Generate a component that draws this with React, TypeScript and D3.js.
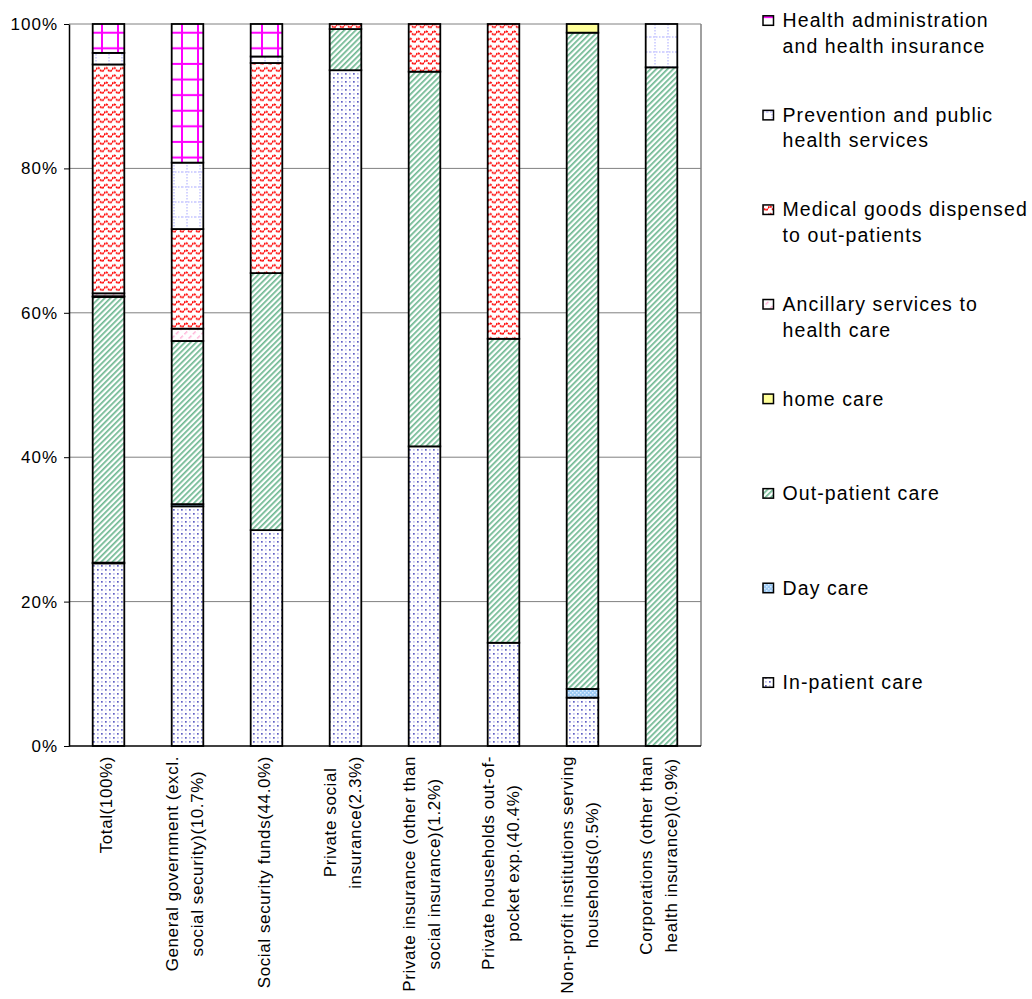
import React, { useEffect, useRef } from "react";
import * as d3 from "d3";

// Financing agents (x categories) and their wrapped axis labels
const categories = [
  "Total",
  "General government",
  "Social security funds",
  "Private social insurance",
  "Private insurance",
  "Private households",
  "Non-profit institutions",
  "Corporations",
];
const categoryLabels = [
  ["Total(100%)"],
  ["General government (excl.", "social security)(10.7%)"],
  ["Social security funds(44.0%)"],
  ["Private social", "insurance(2.3%)"],
  ["Private insurance (other than", "social insurance)(1.2%)"],
  ["Private households out-of-", "pocket exp.(40.4%)"],
  ["Non-profit institutions serving", "households(0.5%)"],
  ["Corporations (other than", "health insurance)(0.9%)"],
];

// Share (%) of each function of care, per financing agent
const inPatient = [25.3, 33.2, 29.9, 93.6, 41.5, 14.3, 6.7, 0];
const dayCare = [0.1, 0.3, 0, 0, 0, 0, 1.2, 0];
const outPatient = [36.8, 22.6, 35.6, 5.7, 51.9, 42.1, 90.9, 94.0];
const homeCare = [0.1, 0, 0, 0, 0, 0, 1.2, 0];
const ancillary = [0.4, 1.7, 0, 0, 0, 0, 0, 0];
const medicalGoods = [31.7, 13.8, 29.1, 0.7, 6.6, 43.6, 0, 0];
const prevention = [1.6, 9.2, 0.9, 0, 0, 0, 0, 6.0];
const administration = [4.0, 19.2, 4.5, 0, 0, 0, 0, 0];

// Stack order, bottom to top
const seriesKeys = [
  "inPatient",
  "dayCare",
  "outPatient",
  "homeCare",
  "ancillary",
  "medicalGoods",
  "prevention",
  "administration",
];
const seriesValues: Record<string, number[]> = {
  inPatient,
  dayCare,
  outPatient,
  homeCare,
  ancillary,
  medicalGoods,
  prevention,
  administration,
};

// Legend, listed top to bottom
const legendKeys = [
  "administration",
  "prevention",
  "medicalGoods",
  "ancillary",
  "homeCare",
  "outPatient",
  "dayCare",
  "inPatient",
];
const legendLabels = [
  ["Health administration", "and health insurance"],
  ["Prevention and public", "health services"],
  ["Medical goods dispensed", "to out-patients"],
  ["Ancillary services to", "health care"],
  ["home care"],
  ["Out-patient care"],
  ["Day care"],
  ["In-patient care"],
];

const yTicks = [0, 20, 40, 60, 80, 100];

const FONT = "'Liberation Sans', Arial, sans-serif";

export default function App() {
  const ref = useRef<SVGSVGElement | null>(null);

  useEffect(() => {
    const svg = d3.select(ref.current!);
    svg.selectAll("*").remove();

    const defs = svg.append("defs");
    const pat = (id: string, w: number, h: number, rot?: number) => {
      const p = defs
        .append("pattern")
        .attr("id", id)
        .attr("patternUnits", "userSpaceOnUse")
        .attr("width", w)
        .attr("height", h);
      if (rot) p.attr("patternTransform", `rotate(${rot})`);
      return p;
    };

    // in-patient: fine dots
    {
      const p = pat("pat-inPatient", 8, 8);
      p.append("rect").attr("width", 8).attr("height", 8).attr("fill", "#fff");
      [[1, 1], [5, 5]].forEach(([a, b]) =>
        p.append("rect").attr("x", a).attr("y", b).attr("width", 1.7).attr("height", 1.7).attr("fill", "#5f5fc4")
      );
      [[5, 1], [1, 5]].forEach(([a, b]) =>
        p.append("rect").attr("x", a).attr("y", b).attr("width", 1.7).attr("height", 1.7).attr("fill", "#c4c4f0")
      );
    }
    // day care: light blue checker
    {
      const p = pat("pat-dayCare", 4, 4);
      p.append("rect").attr("width", 4).attr("height", 4).attr("fill", "#9ccaf4");
      p.append("rect").attr("x", 0).attr("y", 0).attr("width", 1.5).attr("height", 1.5).attr("fill", "#dcecff");
      p.append("rect").attr("x", 2).attr("y", 2).attr("width", 1.5).attr("height", 1.5).attr("fill", "#dcecff");
    }
    // out-patient: green upward diagonals
    {
      const p = pat("pat-outPatient", 4, 4, 45);
      p.append("rect").attr("width", 4).attr("height", 4).attr("fill", "#fff");
      p.append("rect").attr("width", 1.7).attr("height", 4).attr("fill", "#6fb892");
    }
    // home care: pale yellow
    {
      const p = pat("pat-homeCare", 4, 4);
      p.append("rect").attr("width", 4).attr("height", 4).attr("fill", "#ffff99");
    }
    // ancillary: light pink diagonals
    {
      const p = pat("pat-ancillary", 6, 6, 45);
      p.append("rect").attr("width", 6).attr("height", 6).attr("fill", "#fff");
      p.append("rect").attr("width", 1.4).attr("height", 4).attr("fill", "#ffb0d6");
    }
    // medical goods: red waves
    {
      const p = pat("pat-medicalGoods", 8, 7.3);
      p.append("rect").attr("width", 8).attr("height", 7.3).attr("fill", "#fff");
      p.append("path")
        .attr("d", "M0,3.8 Q2,0.2 4,3.8 T8,3.8")
        .attr("fill", "none")
        .attr("stroke", "#ff0000")
        .attr("stroke-width", 1.8)
        .attr("stroke-dasharray", "2 0.8");
    }
    // prevention: lavender dotted grid
    {
      const p = pat("pat-prevention", 13, 15);
      p.append("rect").attr("width", 13).attr("height", 15).attr("fill", "#fff");
      p.append("line").attr("x1", 5).attr("x2", 5).attr("y1", 0).attr("y2", 15)
        .attr("stroke", "#c6c6ff").attr("stroke-width", 1.5).attr("stroke-dasharray", "1.5 1.5");
      p.append("line").attr("x1", 0).attr("x2", 13).attr("y1", 7).attr("y2", 7)
        .attr("stroke", "#c6c6ff").attr("stroke-width", 1.5).attr("stroke-dasharray", "1.5 1.5");
    }
    // administration: magenta grid
    {
      const p = pat("pat-administration", 16, 15.6).attr("y", 24);
      p.append("rect").attr("width", 16).attr("height", 15.6).attr("fill", "#fff");
      p.append("rect").attr("x", 5).attr("y", 0).attr("width", 2).attr("height", 15.6).attr("fill", "#ff00ff");
      p.append("rect").attr("x", 0).attr("y", 7.7).attr("width", 16).attr("height", 2).attr("fill", "#ff00ff");
    }

    const left = 69, right = 701, top = 24, bottom = 746;
    const x = d3.scaleBand<string>().domain(categories).range([left, right]).paddingInner(0.6).paddingOuter(0.3);
    const y = d3.scaleLinear().domain([0, 100]).range([bottom, top]);

    // gridlines and frame
    const grid = svg.append("g");
    yTicks.filter((t) => t > 0).forEach((t) => {
      grid.append("line")
        .attr("x1", left).attr("x2", right)
        .attr("y1", y(t)).attr("y2", y(t))
        .attr("stroke", "#808080").attr("stroke-width", 1);
    });
    grid.append("line").attr("x1", right).attr("x2", right).attr("y1", top).attr("y2", bottom)
      .attr("stroke", "#808080").attr("stroke-width", 1.5);

    // stacked bars
    const rows = categories.map((c, i) => {
      const r: any = { cat: c };
      seriesKeys.forEach((k) => (r[k] = seriesValues[k][i]));
      return r;
    });
    const stacked = d3.stack<any>().keys(seriesKeys)(rows);
    const bars = svg.append("g");
    stacked.forEach((layer) => {
      layer.forEach((d) => {
        if (d[1] - d[0] <= 0) return;
        bars.append("rect")
          .attr("x", x(d.data.cat)!)
          .attr("y", y(d[1]))
          .attr("width", x.bandwidth())
          .attr("height", y(d[0]) - y(d[1]))
          .attr("fill", `url(#pat-${layer.key})`)
          .attr("stroke", "#000")
          .attr("stroke-width", 1.8);
      });
    });

    // y axis
    const yAxis = svg.append("g")
      .attr("transform", `translate(${left},0)`)
      .call(
        d3.axisLeft(y).tickValues(yTicks).tickSize(5).tickSizeOuter(0).tickPadding(6)
          .tickFormat((d) => `${d}%`)
      );
    yAxis.select(".domain").attr("stroke", "#000").attr("stroke-width", 1.5);
    yAxis.selectAll(".tick line").attr("stroke", "#000").attr("stroke-width", 1);
    yAxis.selectAll(".tick text")
      .attr("font-family", FONT).attr("font-size", 17).attr("letter-spacing", 1).attr("fill", "#000");

    // x axis line
    svg.append("line").attr("x1", left).attr("x2", right).attr("y1", bottom).attr("y2", bottom)
      .attr("stroke", "#000").attr("stroke-width", 1.5);

    // category labels, rotated
    const xl = svg.append("g").attr("font-family", FONT).attr("font-size", 17).attr("letter-spacing", 0.6).attr("fill", "#000");
    categories.forEach((cat, i) => {
      const lines = categoryLabels[i];
      const cx = x(cat)! + x.bandwidth() / 2;
      const texts = lines.map((ln) => xl.append("text").attr("text-anchor", "middle").text(ln));
      const maxLen = d3.max(texts.map((t) => (t.node() as SVGTextElement).getComputedTextLength())) || 0;
      texts.forEach((t, j) => {
        const colCenter = cx - 1.5 + (j - (lines.length - 1) / 2) * 25.5;
        const bx = colCenter + 4.5;
        const by = 756 + maxLen / 2;
        t.attr("transform", `translate(${bx},${by}) rotate(-90)`);
      });
    });

    // legend
    const lg = svg.append("g").attr("font-family", FONT).attr("font-size", 19.5).attr("letter-spacing", 1.1).attr("fill", "#000");
    legendKeys.forEach((k, i) => {
      const base = 27.3 + i * 94.57;
      lg.append("rect")
        .attr("x", 763).attr("y", base - 11.5).attr("width", 10.5).attr("height", 9.5)
        .attr("fill", `url(#pat-${k})`).attr("stroke", "#000").attr("stroke-width", 1.5);
      legendLabels[i].forEach((ln, j) => {
        lg.append("text").attr("x", 782.5).attr("y", base + j * 25.6).text(ln);
      });
    });
  }, []);

  return (
    <svg
      ref={ref}
      width={1032}
      height={999}
      style={{ position: "absolute", left: 0, top: 0, background: "#fff" }}
    />
  );
}
